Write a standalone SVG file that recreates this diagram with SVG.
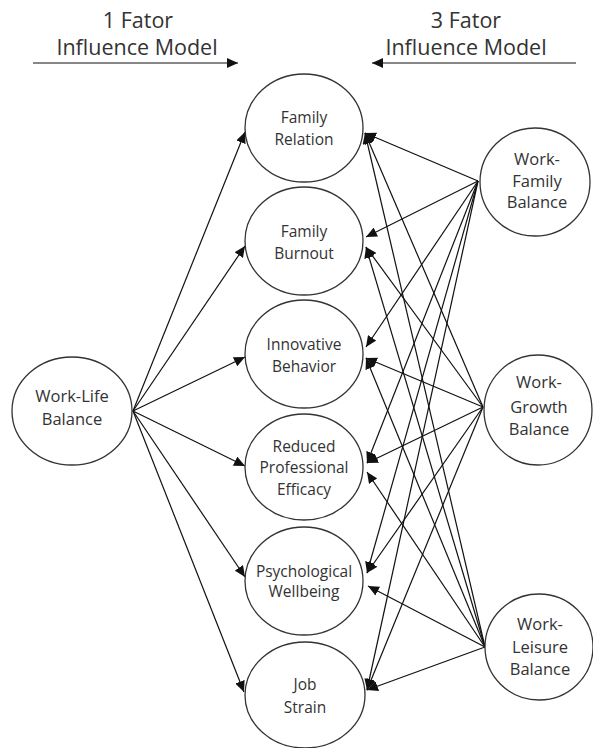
<svg xmlns="http://www.w3.org/2000/svg" width="593" height="748" viewBox="0 0 593 748">
<style>
.node ellipse{fill:#fff;stroke:#333;stroke-width:1.3}
.t{font-family:"Open Sans","Liberation Sans",Arial,sans-serif;fill:#333;text-anchor:middle}
.m{font-size:15.5px}
.s{font-size:16.5px}
.h{font-size:21.5px}
.c line{stroke:#111;stroke-width:1.2;marker-end:url(#ah)}
</style>
<defs>
<marker id="ah" markerUnits="userSpaceOnUse" markerWidth="12" markerHeight="10" refX="11" refY="5" orient="auto">
<path d="M0,0 L11,5 L0,10 Z" fill="#111"/>
</marker>
</defs>
<rect width="593" height="748" fill="#fff"/>
<g id="header">
<text class="t h" x="138" y="28">1 Fator</text>
<text class="t h" x="137" y="55">Influence Model</text>
<text class="t h" x="466" y="28">3 Fator</text>
<text class="t h" x="466" y="55">Influence Model</text>
</g>
<g class="c" id="connectors">
<line x1="33" y1="63" x2="238" y2="63"/>
<line x1="576" y1="63" x2="372" y2="63"/>
<line x1="133" y1="411" x2="245" y2="132"/>
<line x1="133" y1="411" x2="245" y2="246"/>
<line x1="133" y1="411" x2="245" y2="357"/>
<line x1="133" y1="411" x2="245" y2="466"/>
<line x1="133" y1="411" x2="245" y2="577"/>
<line x1="133" y1="411" x2="244" y2="692"/>
<line x1="478" y1="181" x2="365" y2="133"/>
<line x1="483" y1="407" x2="365" y2="133"/>
<line x1="485" y1="647" x2="365" y2="133"/>
<line x1="478" y1="181" x2="366" y2="237"/>
<line x1="483" y1="407" x2="366" y2="247"/>
<line x1="485" y1="647" x2="366" y2="247"/>
<line x1="478" y1="181" x2="366" y2="347"/>
<line x1="483" y1="407" x2="366" y2="358"/>
<line x1="485" y1="647" x2="366" y2="358"/>
<line x1="478" y1="181" x2="367" y2="463"/>
<line x1="483" y1="407" x2="367" y2="463"/>
<line x1="485" y1="647" x2="367" y2="472"/>
<line x1="478" y1="181" x2="367" y2="573"/>
<line x1="483" y1="407" x2="367" y2="573"/>
<line x1="485" y1="647" x2="368" y2="586"/>
<line x1="478" y1="181" x2="367" y2="690"/>
<line x1="483" y1="407" x2="367" y2="690"/>
<line x1="485" y1="647" x2="367" y2="690"/>
</g>
<g class="node" id="work-life"><ellipse cx="72" cy="411" rx="60" ry="54"/><text class="t s" x="72" y="402">Work-Life</text><text class="t s" x="72" y="425">Balance</text></g>
<g class="node" id="family-relation"><ellipse cx="304" cy="128" rx="59" ry="54"/><text class="t m" x="304" y="123">Family</text><text class="t m" x="304" y="145">Relation</text></g>
<g class="node" id="family-burnout"><ellipse cx="304" cy="241" rx="59" ry="54"/><text class="t m" x="304" y="237">Family</text><text class="t m" x="304" y="259">Burnout</text></g>
<g class="node" id="innovative"><ellipse cx="304" cy="354" rx="59" ry="54"/><text class="t m" x="304" y="350">Innovative</text><text class="t m" x="304" y="372">Behavior</text></g>
<g class="node" id="reduced"><ellipse cx="304" cy="467" rx="59" ry="53"/><text class="t m" x="304" y="452">Reduced</text><text class="t m" x="304" y="473">Professional</text><text class="t m" x="304" y="495">Efficacy</text></g>
<g class="node" id="psych"><ellipse cx="304" cy="581" rx="59" ry="54"/><text class="t m" x="304" y="577">Psychological</text><text class="t m" x="304" y="597">Wellbeing</text></g>
<g class="node" id="job-strain"><ellipse cx="305" cy="695" rx="60" ry="53"/><text class="t m" x="305" y="690">Job</text><text class="t m" x="305" y="713">Strain</text></g>
<g class="node" id="work-family"><ellipse cx="535" cy="182" rx="55" ry="54"/><text class="t s" x="537" y="165">Work-</text><text class="t s" x="537" y="187">Family</text><text class="t s" x="537" y="208">Balance</text></g>
<g class="node" id="work-growth"><ellipse cx="538" cy="410" rx="54" ry="55"/><text class="t s" x="539" y="388">Work-</text><text class="t s" x="539" y="413">Growth</text><text class="t s" x="539" y="435">Balance</text></g>
<g class="node" id="work-leisure"><ellipse cx="539" cy="647" rx="54" ry="53"/><text class="t s" x="540" y="630">Work-</text><text class="t s" x="540" y="653">Leisure</text><text class="t s" x="540" y="675">Balance</text></g>
</svg>
